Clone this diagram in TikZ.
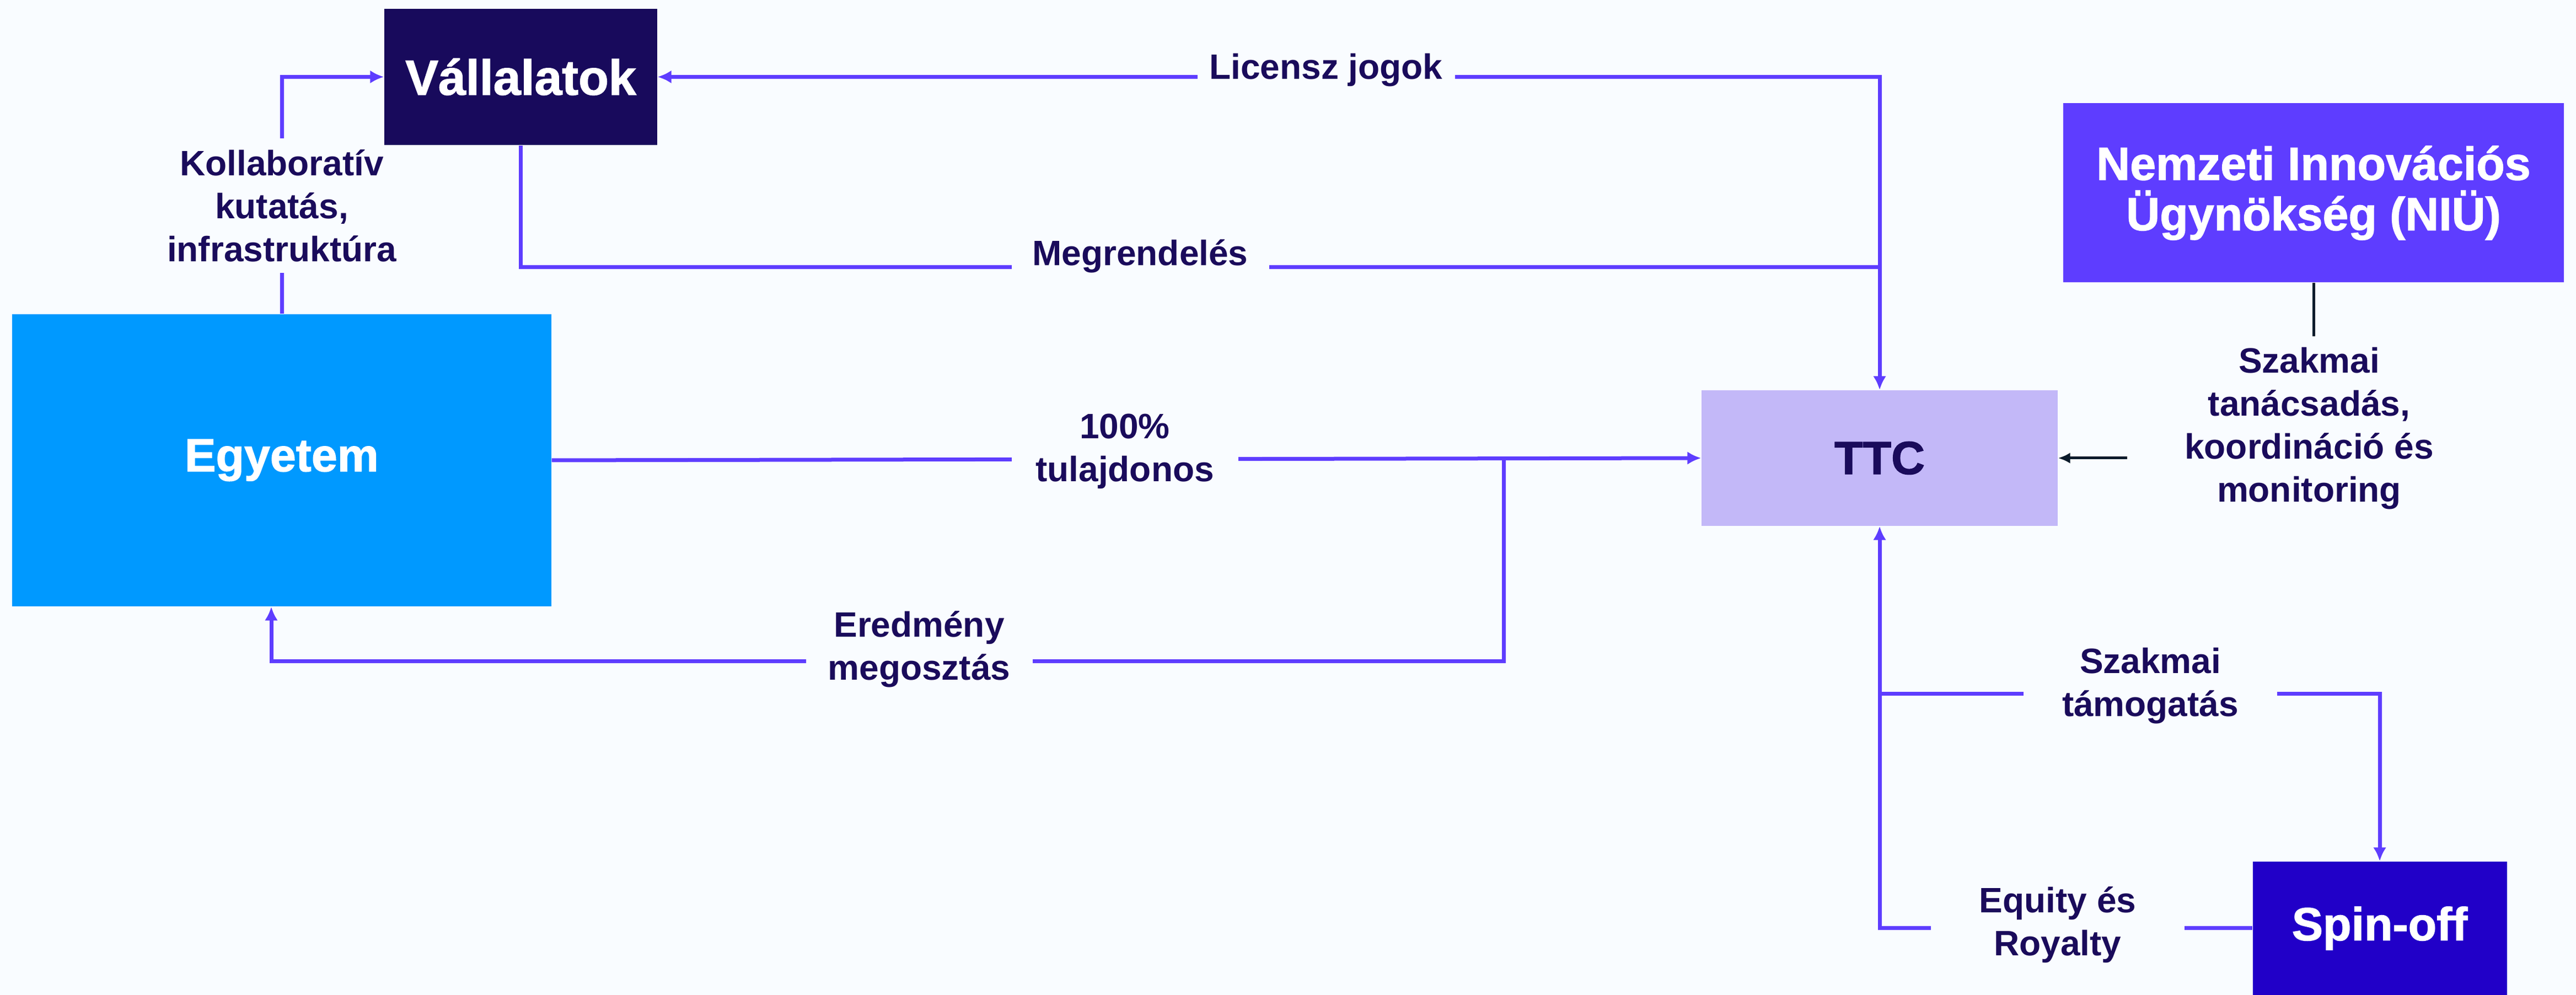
\documentclass[tikz,border=0pt]{standalone}
\usepackage{fontspec}
\setmainfont{Liberation Sans}
\newfontfamily\heavyfont[BoldFeatures={FakeBold=1.5}]{Liberation Sans}
\usetikzlibrary{arrows.meta,positioning}
\pgfdeclarelayer{paper}
\pgfdeclarelayer{wires}
\pgfsetlayers{paper,wires,main}
\definecolor{bgcol}{HTML}{F9FCFF}
\definecolor{linecol}{HTML}{5E3DFF}
\definecolor{txtcol}{HTML}{1A0B5B}
\definecolor{vallcol}{HTML}{180A5C}
\definecolor{egycol}{HTML}{0099FF}
\definecolor{ttccol}{HTML}{C3B8F8}
\definecolor{niucol}{HTML}{5E3DFF}
\definecolor{spincol}{HTML}{2100C8}
\definecolor{darkcol}{HTML}{0B1B2B}
\tikzstyle{box} = [rectangle, draw=none, inner sep=0pt, align=center,
	font=\heavyfont\fontsize{24}{26}\selectfont\bfseries]
\tikzstyle{link} = [draw=linecol, line width=0.07cm]
\tikzstyle{flow} = [link, -{Latex[length=0.25cm,width=0.24cm]}]
\tikzstyle{lbl} = [fill=bgcol, text=txtcol, align=center, inner xsep=0.2cm, inner ysep=0.2cm,
	minimum width=4.6cm, font=\fontsize{18.2}{22.2}\selectfont\bfseries]

\begin{document}
\begin{tikzpicture}
			\begin{pgfonlayer}{paper}
			\fill [bgcol] (0,0) rectangle (46.72,18.05);
			\end{pgfonlayer}
			\useasboundingbox (0,0) rectangle (46.72,18.05);
			
			\node [box, fill=vallcol, text=white, minimum width=4.95cm, minimum height=2.47cm] (vall) at (9.445,16.655) {\fontsize{25.5}{27}\selectfont Vállalatok};
			\node [box, fill=egycol, text=white, minimum width=9.78cm, minimum height=5.30cm] (egy) at (5.11,9.70) {Egyetem};
			\node [box, fill=ttccol, text=txtcol, minimum width=6.46cm, minimum height=2.46cm] (ttc) at (34.09,9.74) {TTC};
			\node [box, fill=niucol, text=white, minimum width=9.08cm, minimum height=3.25cm] (niu) at (41.96,14.55) {Nemzeti Innovációs\\Ügynökség (NIÜ)};
			\node [box, fill=spincol, text=white, minimum width=4.61cm, minimum height=2.42cm] (spin) at (43.16,1.21) {Spin-off};
			
			\coordinate (mg)  at (34.09,13.20);
			\coordinate (er)  at (27.27,9.72);
			\coordinate (erb) at (4.92,6.05);
			\coordinate (st)  at (34.09,5.46);
			
			\begin{pgfonlayer}{wires}
			\draw [flow] (egy.north) |- (vall.west);
			\draw [link] (vall.south) |- (mg);
			\draw [flow] (mg) -- (ttc.north);
			\draw [flow] (mg) |- (vall.east);
			\draw [flow] (egy.east) -- (ttc.west);
			\draw [flow] (er) |- (erb) -- (erb |- egy.south);
			\draw [flow] (st) -| (spin.north);
			\draw [flow] (spin.west) -| (ttc.south);
			\draw [draw=darkcol, line width=0.05cm, -{Latex[length=0.22cm,width=0.2cm]}] (niu.south) |- (ttc.east);
			
			\node [lbl, minimum width=0pt] (kollab) at (5.11,14.32) {Kollaboratív\\kutatás,\\infrastruktúra};
			\node [lbl, minimum width=4.67cm] (licensz) at (24.05,16.78) {Licensz jogok};
			\node [lbl, minimum width=4.67cm] (megr)    at (20.68,13.40) {Megrendelés};
			\node [lbl, minimum width=4.11cm] (tulaj)   at (20.40,9.86)  {100\%\\tulajdonos};
			\node [lbl, minimum width=4.11cm] (eredm)   at (16.67,6.27)  {Eredmény\\megosztás};
			\node [lbl, minimum width=6.6cm, minimum height=3.32cm] (tanacs) at (41.88,10.28) {Szakmai\\tanácsadás,\\koordináció és\\monitoring};
			\node [lbl] (tamog)  at (39.00,5.61) {Szakmai\\támogatás};
			\node [lbl] (equity) at (37.32,1.27) {Equity és\\Royalty};
			\end{pgfonlayer}
			
\end{tikzpicture}
\end{document}
